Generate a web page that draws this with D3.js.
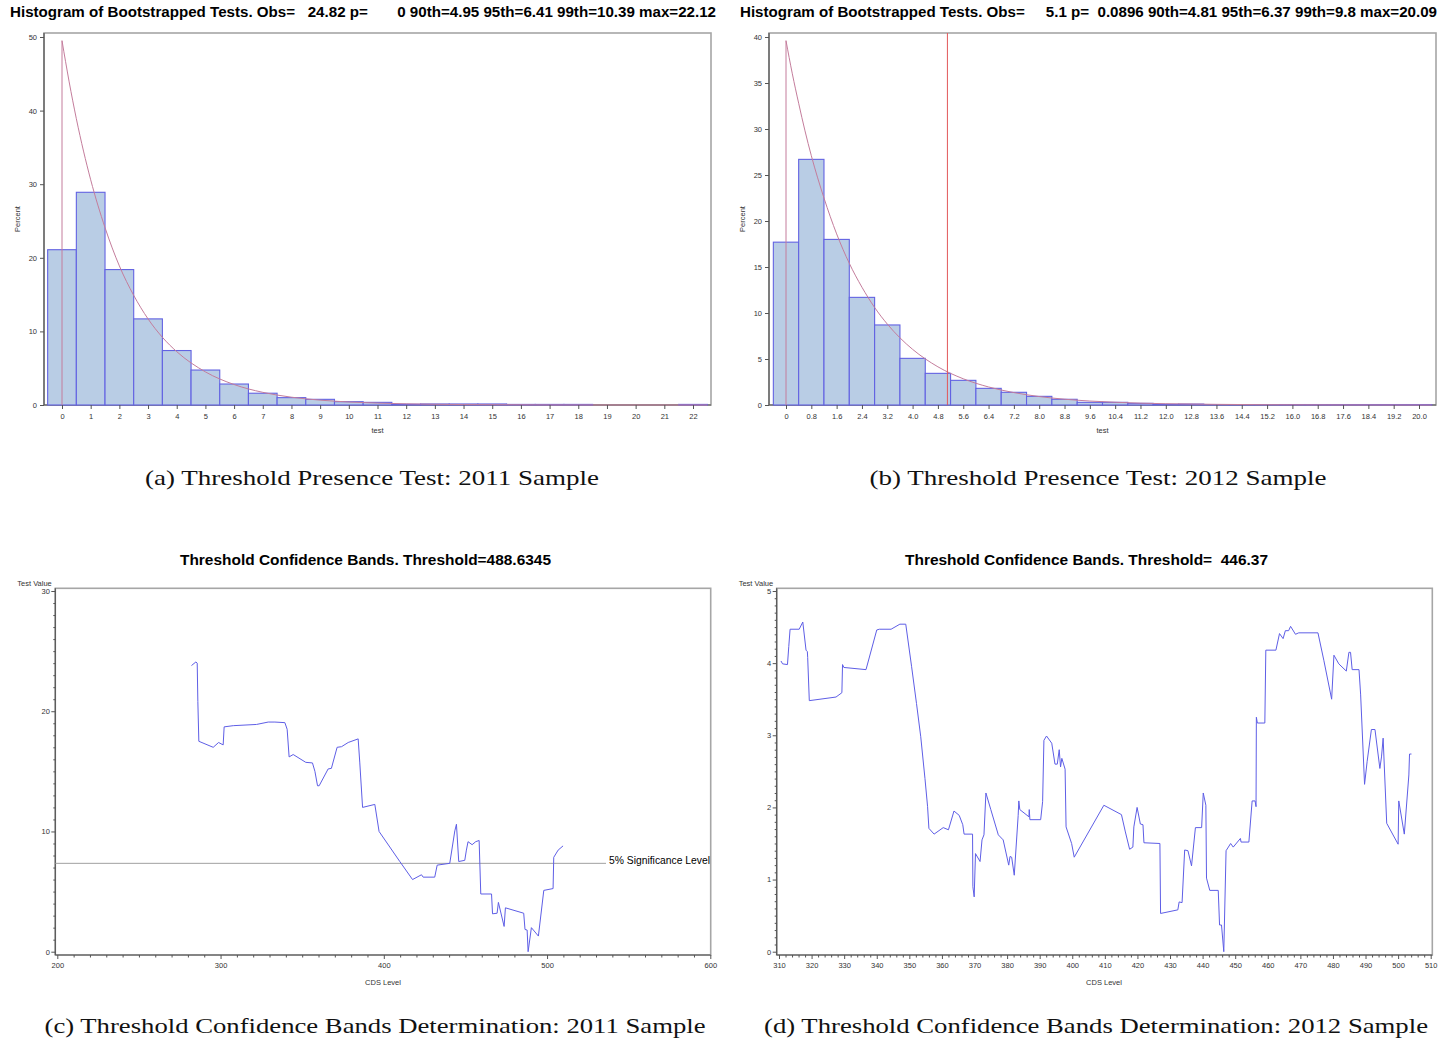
<!DOCTYPE html>
<html><head><meta charset="utf-8">
<script src="https://cdn.jsdelivr.net/npm/d3@7"></script>
<style>
body{margin:0;background:#fff}
svg{display:block}
text{font-family:"Liberation Sans",Arial,sans-serif}
</style>
</head><body>
<svg id="chart" width="1440" height="1041"></svg>
<script>
// ---------------- DATA ----------------
const titleA = "Histogram of Bootstrapped Tests. Obs=   24.82 p=       0 90th=4.95 95th=6.41 99th=10.39 max=22.12";
const titleB = "Histogram of Bootstrapped Tests. Obs=     5.1 p=  0.0896 90th=4.81 95th=6.37 99th=9.8 max=20.09";
const titleC = "Threshold Confidence Bands. Threshold=488.6345";
const titleD = "Threshold Confidence Bands. Threshold=  446.37";
const captionA = "(a) Threshold Presence Test: 2011 Sample";
const captionB = "(b) Threshold Presence Test: 2012 Sample";
const captionC = "(c) Threshold Confidence Bands Determination: 2011 Sample";
const captionD = "(d) Threshold Confidence Bands Determination: 2012 Sample";

// histogram 2011 (bin centres, bin width 1)
const bins2011 = [0,1,2,3,4,5,6,7,8,9,10,11,12,13,14,15,16,17,18,19,20,21,22];
const pct2011  = [21.1,28.9,18.4,11.7,7.4,4.75,2.85,1.6,1.0,0.77,0.45,0.36,0.1,0.14,0.14,0.14,0.08,0.08,0.08,0,0,0,0.08];
const xTicks2011 = [0,1,2,3,4,5,6,7,8,9,10,11,12,13,14,15,16,17,18,19,20,21,22];
const yTicks2011 = [0,10,20,30,40,50];
const curveX2011 = [0,0,0.25,0.5,0.75,1,1.5,2,2.5,3,3.5,4,5,6,7,8,9,10,12,14,17,22.5];
const curveY2011 = [0,49.5,43.9,38.9,34.5,30.6,24.1,18.9,14.9,11.7,9.2,7.25,4.5,2.78,1.72,1.06,0.66,0.41,0.16,0.06,0.01,0];

// histogram 2012 (bin centres, bin width 0.8)
const bins2012 = [0,0.8,1.6,2.4,3.2,4.0,4.8,5.6,6.4,7.2,8.0,8.8,9.6,10.4,11.2,12.0,12.8,13.6,14.4,15.2,16.0,16.8,17.6,18.4,19.2,20.0];
const pct2012  = [17.7,26.7,18.0,11.7,8.7,5.07,3.44,2.68,1.81,1.38,0.94,0.62,0.29,0.29,0.18,0.07,0.1,0.03,0.03,0.03,0.05,0.05,0.05,0.05,0.05,0.05];
const xTicks2012 = [0,0.8,1.6,2.4,3.2,4.0,4.8,5.6,6.4,7.2,8.0,8.8,9.6,10.4,11.2,12.0,12.8,13.6,14.4,15.2,16.0,16.8,17.6,18.4,19.2,20.0];
const xTickLabels2012 = ["0","0.8","1.6","2.4","3.2","4.0","4.8","5.6","6.4","7.2","8.0","8.8","9.6","10.4","11.2","12.0","12.8","13.6","14.4","15.2","16.0","16.8","17.6","18.4","19.2","20.0"];
const yTicks2012 = [0,5,10,15,20,25,30,35,40];
const curveX2012 = [0,0,0.2,0.4,0.6,0.8,1.2,1.6,2.0,2.4,2.8,3.2,3.6,4.0,4.8,5.6,6.4,7.2,8.0,8.8,9.6,10.4,11.2,12.0,13.6,15.2,17.6,20.4];
const curveY2012 = [0,39.6,36.0,32.8,29.8,27.1,22.5,18.6,15.4,12.8,10.6,8.8,7.3,6.05,4.15,2.85,1.96,1.35,0.92,0.63,0.43,0.3,0.2,0.14,0.07,0.03,0.01,0];
const obs2012 = 5.1;

// confidence bands 2011
const cds2011 = [282.2,284.9,285.7,286.1,286.7,295.5,298.8,301.6,302.2,307.8,322.0,329.2,333.3,339.4,340.8,342.0,344.5,352.2,356.3,357.8,359.4,360.4,365.9,367.9,371.4,374.1,378.2,384.3,385.3,387.0,394.5,397.1,409.8,417.6,423.1,424.1,431.2,432.7,440.4,443.5,444.5,445.9,449.6,450.6,451.6,454.1,456.3,458.4,459.4,466.0,466.6,469.4,470.2,473.7,474.5,485.7,486.5,487.8,488.4,490.4,494.7,498.0,503.7,504.1,506.8,509.8];
const test2011 = [23.8,24.1,24.0,20.8,17.5,17.0,17.4,17.2,18.7,18.8,18.9,19.1,19.1,19.05,18.5,16.2,16.4,15.75,15.7,15.0,13.8,13.8,15.2,15.25,17.0,17.05,17.4,17.7,15.7,12.0,12.25,10.0,7.5,6.0,6.4,6.2,6.2,7.2,7.35,10.05,10.6,7.5,7.6,8.45,9.15,8.9,9.15,9.25,4.8,4.8,3.15,3.2,4.1,2.1,3.65,3.2,1.85,1.8,0.0,2.0,1.3,5.1,5.25,7.85,8.45,8.8];
const sigLevel2011 = 7.35;
const sigLabel = "5% Significance Level";
const xTicksC = [200,300,400,500,600];
const yTicksC = [0,10,20,30];

// confidence bands 2012
const cds2012 = [310.6,311.1,312.6,313.0,313.4,316.2,317.3,318.3,318.7,318.8,319.3,327.5,329.3,329.5,329.9,336.7,340.0,340.8,344.4,347.1,348.9,350.7,352.2,353.5,354.8,355.6,356.0,357.6,360.4,362.0,363.7,365.3,366.4,366.8,369.4,369.5,369.9,370.3,371.7,372.3,372.9,373.5,375.0,377.3,378.8,380.5,380.9,381.4,382.2,383.4,383.6,383.9,386.7,386.8,387.0,390.3,390.9,391.3,392.1,393.7,394.7,395.4,396.0,396.4,396.8,397.8,398.1,399.8,400.6,409.7,415.1,416.3,417.6,418.6,418.9,419.9,420.9,421.7,422.0,426.9,427.1,432.4,432.8,433.7,434.5,435.5,436.6,437.8,439.7,440.2,441.0,441.2,442.2,444.8,445.2,445.8,446.5,447.2,448.6,449.4,451.6,451.8,454.2,455.2,456.1,456.4,456.5,456.8,459.1,459.4,462.5,463.6,464.7,465.4,466.4,467.0,468.5,469.5,475.4,477.2,479.6,480.3,481.8,484.1,484.9,485.4,485.9,488.0,488.5,489.7,490.5,491.8,492.9,494.4,494.9,495.4,496.5,500.0,500.2,501.9,503.3,503.5,504.1];
const test2012 = [4.03,3.99,3.98,4.23,4.47,4.47,4.57,4.18,4.16,4.08,3.48,3.53,3.59,3.98,3.94,3.91,4.46,4.47,4.47,4.54,4.54,3.95,3.44,2.98,2.4,2.01,1.71,1.63,1.72,1.69,1.95,1.89,1.76,1.63,1.63,0.9,0.76,1.36,1.25,1.55,1.62,2.2,1.97,1.62,1.55,1.2,1.32,1.31,1.06,1.89,2.09,1.97,1.87,1.97,1.83,1.83,2.08,2.93,2.99,2.89,2.6,2.6,2.8,2.56,2.68,2.53,1.73,1.5,1.31,2.03,1.9,1.66,1.42,1.45,1.73,2.0,1.77,1.76,1.51,1.5,0.53,0.58,0.69,0.68,1.41,1.40,1.19,1.72,1.72,2.2,2.03,1.02,0.85,0.85,0.37,0.37,0.0,1.4,1.5,1.45,1.57,1.52,1.52,2.09,2.09,2.01,3.25,3.17,3.17,4.18,4.18,4.41,4.34,4.45,4.45,4.51,4.4,4.42,4.42,4.04,3.5,4.11,3.99,3.89,4.15,4.15,3.91,3.91,3.56,2.32,2.64,3.08,3.08,2.54,2.7,2.96,1.78,1.49,2.09,1.63,2.45,2.74,2.74];
const xTicksD = [310,320,330,340,350,360,370,380,390,400,410,420,430,440,450,460,470,480,490,500,510];
const yTicksD = [0,1,2,3,4,5];

// ---------------- DRAWING ----------------
const svg = d3.select("#chart");
const AXIS = "#555", TXT = "#333", FS = "7.5px";
const BAR_FILL = "#b9cde5", BAR_STROKE = "#6262e2", CURVE = "#c47d9c", LINE = "#5e5ee6";

function frame(l, t, r, b) {
  svg.append("rect").attr("x", l).attr("y", t).attr("width", r - l).attr("height", b - t)
    .attr("fill", "none").attr("stroke", "#a6a6a6").attr("stroke-width", 1.6);
  svg.append("line").attr("x1", l).attr("x2", l).attr("y1", t).attr("y2", b).attr("stroke", AXIS).attr("stroke-width", 1.2);
  svg.append("line").attr("x1", l).attr("x2", r).attr("y1", b).attr("y2", b).attr("stroke", AXIS).attr("stroke-width", 1.2);
}
function styleAxis(g) {
  g.select(".domain").remove();
  g.selectAll(".tick line").attr("stroke", AXIS);
  g.selectAll(".tick text").attr("fill", TXT).style("font-size", FS).style("font-family", '"Liberation Sans",Arial,sans-serif');
}
function label(x, y, txt, opts = {}) {
  const t = svg.append("text").attr("x", x).attr("y", y).text(txt)
    .attr("fill", opts.fill || TXT).style("font-size", opts.size || FS)
    .attr("text-anchor", opts.anchor || "middle")
    .style("white-space", "pre").attr("xml:space", "preserve");
  if (opts.weight) t.style("font-weight", opts.weight);
  if (opts.rotate) t.attr("transform", `rotate(-90 ${x} ${y})`);
  if (opts.family) t.style("font-family", opts.family);
  if (opts.len) t.attr("textLength", opts.len).attr("lengthAdjust", "spacingAndGlyphs");
  return t;
}
function caption(cx, y, txt, width) {
  const t = svg.append("text").attr("x", cx).attr("y", y).text(txt)
    .attr("text-anchor", "middle").attr("fill", "#111")
    .style("font-family", '"Liberation Serif","Times New Roman",serif').style("font-size", "22px");
  t.attr("textLength", width).attr("lengthAdjust", "spacingAndGlyphs");
}

function histogram(cfg) {
  const x = d3.scaleLinear().domain(cfg.xd).range(cfg.xr);
  const y = d3.scaleLinear().domain(cfg.yd).range(cfg.yr);
  frame(cfg.l, cfg.t, cfg.r, cfg.b);
  const w = cfg.binW;
  svg.append("g").selectAll("rect").data(cfg.bins.map((c, i) => ({c, v: cfg.pct[i]})).filter(d => d.v > 0))
    .join("rect")
    .attr("x", d => x(d.c - w / 2)).attr("width", d => x(d.c + w / 2) - x(d.c - w / 2))
    .attr("y", d => y(d.v)).attr("height", d => y(0) - y(d.v))
    .attr("fill", BAR_FILL).attr("stroke", BAR_STROKE).attr("stroke-width", 1.1);
  const pts = cfg.cx.map((v, i) => [v, cfg.cy[i]]);
  svg.append("path").attr("d", d3.line().x(d => x(d[0])).y(d => y(d[1])).curve(d3.curveMonotoneX)(pts.slice(1)))
    .attr("fill", "none").attr("stroke", CURVE).attr("stroke-width", 1);
  svg.append("path").attr("d", d3.line().x(d => x(d[0])).y(d => y(d[1]))(pts.slice(0, 2)))
    .attr("fill", "none").attr("stroke", CURVE).attr("stroke-width", 1);
  if (cfg.obs !== undefined) {
    svg.append("line").attr("x1", x(cfg.obs)).attr("x2", x(cfg.obs)).attr("y1", cfg.t).attr("y2", cfg.b)
      .attr("stroke", "#e2575a").attr("stroke-width", 1);
  }
  const gy = svg.append("g").attr("transform", `translate(${cfg.l},0)`)
    .call(d3.axisLeft(y).tickValues(cfg.yTicks).tickSize(4).tickPadding(3).tickFormat(d3.format("d")));
  styleAxis(gy);
  const gx = svg.append("g").attr("transform", `translate(0,${cfg.b})`)
    .call(d3.axisBottom(x).tickValues(cfg.xTicks).tickSize(4).tickPadding(5)
      .tickFormat((d, i) => cfg.xLabels ? cfg.xLabels[i] : d));
  styleAxis(gx);
  label(cfg.l - 24, (cfg.t + cfg.b) / 2, "Percent", {rotate: true});
  label((cfg.l + cfg.r) / 2, cfg.b + 28, "test");
  label(cfg.titleX, 17, cfg.title, {anchor: "start", weight: "bold", size: "15px", fill: "#000", len: cfg.titleLen});
}

function bands(cfg) {
  const x = d3.scaleLinear().domain(cfg.xd).range(cfg.xr);
  const y = d3.scaleLinear().domain(cfg.yd).range(cfg.yr);
  frame(cfg.l, cfg.t, cfg.r, cfg.b);
  if (cfg.sig !== undefined) {
    svg.append("line").attr("x1", cfg.l).attr("x2", cfg.sigEnd).attr("y1", y(cfg.sig)).attr("y2", y(cfg.sig))
      .attr("stroke", "#a0a0a0").attr("stroke-width", 1);
    label(cfg.sigEnd + 3, y(cfg.sig) + 1, sigLabel, {anchor: "start", size: "10.5px", fill: "#000", len: 101});
  }
  const pts = cfg.xs.map((v, i) => [v, cfg.ys[i]]);
  svg.append("path").attr("d", d3.line().x(d => x(d[0])).y(d => y(d[1]))(pts))
    .attr("fill", "none").attr("stroke", LINE).attr("stroke-width", 1);
  // minor ticks
  const gym = svg.append("g").attr("transform", `translate(${cfg.l},0)`)
    .call(d3.axisLeft(y).tickValues(cfg.yMinor).tickSize(2).tickFormat(""));
  styleAxis(gym);
  const gxm = svg.append("g").attr("transform", `translate(0,${cfg.b})`)
    .call(d3.axisBottom(x).tickValues(cfg.xMinor).tickSize(2.5).tickFormat(""));
  styleAxis(gxm);
  const gy = svg.append("g").attr("transform", `translate(${cfg.l},0)`)
    .call(d3.axisLeft(y).tickValues(cfg.yTicks).tickSize(4).tickPadding(1.5).tickFormat(d3.format("d")));
  styleAxis(gy);
  const gx = svg.append("g").attr("transform", `translate(0,${cfg.b})`)
    .call(d3.axisBottom(x).tickValues(cfg.xTicks).tickSize(4).tickPadding(4).tickFormat(d3.format("d")));
  styleAxis(gx);
  label(cfg.l - 38, cfg.t - 2.5, "Test Value", {anchor: "start"});
  label(cfg.xLabelX, cfg.b + 30, "CDS Level");
  label(cfg.titleX, 565, cfg.title, {weight: "bold", size: "15px", fill: "#000", len: cfg.titleLen});
}

histogram({
  l: 44, t: 33, r: 711, b: 405,
  xd: [0, 22], xr: [62, 693], yd: [0, 50], yr: [405, 37],
  bins: bins2011, pct: pct2011, binW: 1, cx: curveX2011, cy: curveY2011,
  xTicks: xTicks2011, yTicks: yTicks2011, title: titleA, titleX: 10, titleLen: 706
});
histogram({
  l: 769, t: 33, r: 1436, b: 405,
  xd: [0, 20], xr: [786, 1419], yd: [0, 40], yr: [405, 37],
  bins: bins2012, pct: pct2012, binW: 0.8, cx: curveX2012, cy: curveY2012,
  xTicks: xTicks2012, xLabels: xTickLabels2012, yTicks: yTicks2012, obs: obs2012,
  title: titleB, titleX: 740, titleLen: 697
});

const minor = (ticks, step) => {
  const out = [];
  for (let i = 0; i < ticks.length - 1; i++) {
    const n = Math.round((ticks[i + 1] - ticks[i]) / step);
    for (let k = 1; k < n; k++) out.push(ticks[i] + k * step);
  }
  return out;
};

bands({
  l: 55.3, t: 588.3, r: 710.7, b: 955,
  xd: [200, 600], xr: [57.3, 710.3], yd: [0, 30], yr: [951.7, 591],
  xs: cds2011, ys: test2011, sig: sigLevel2011, sigEnd: 606,
  xTicks: xTicksC, yTicks: yTicksC, xMinor: minor(xTicksC, 10), yMinor: minor(yTicksC, 1),
  xLabelX: 383, title: titleC, titleX: 365.5, titleLen: 371
});
bands({
  l: 776.7, t: 588.3, r: 1432.3, b: 955,
  xd: [310, 510], xr: [779, 1430.7], yd: [0, 5], yr: [951.7, 591],
  xs: cds2012, ys: test2012,
  xTicks: xTicksD, yTicks: yTicksD, xMinor: minor(xTicksD, 2), yMinor: minor(yTicksD, 0.1),
  xLabelX: 1104, title: titleD, titleX: 1086.5, titleLen: 363
});

caption(372, 485, captionA, 454);
caption(1098, 485, captionB, 457);
caption(375, 1033, captionC, 661);
caption(1096, 1033, captionD, 664);
</script>
</body></html>
